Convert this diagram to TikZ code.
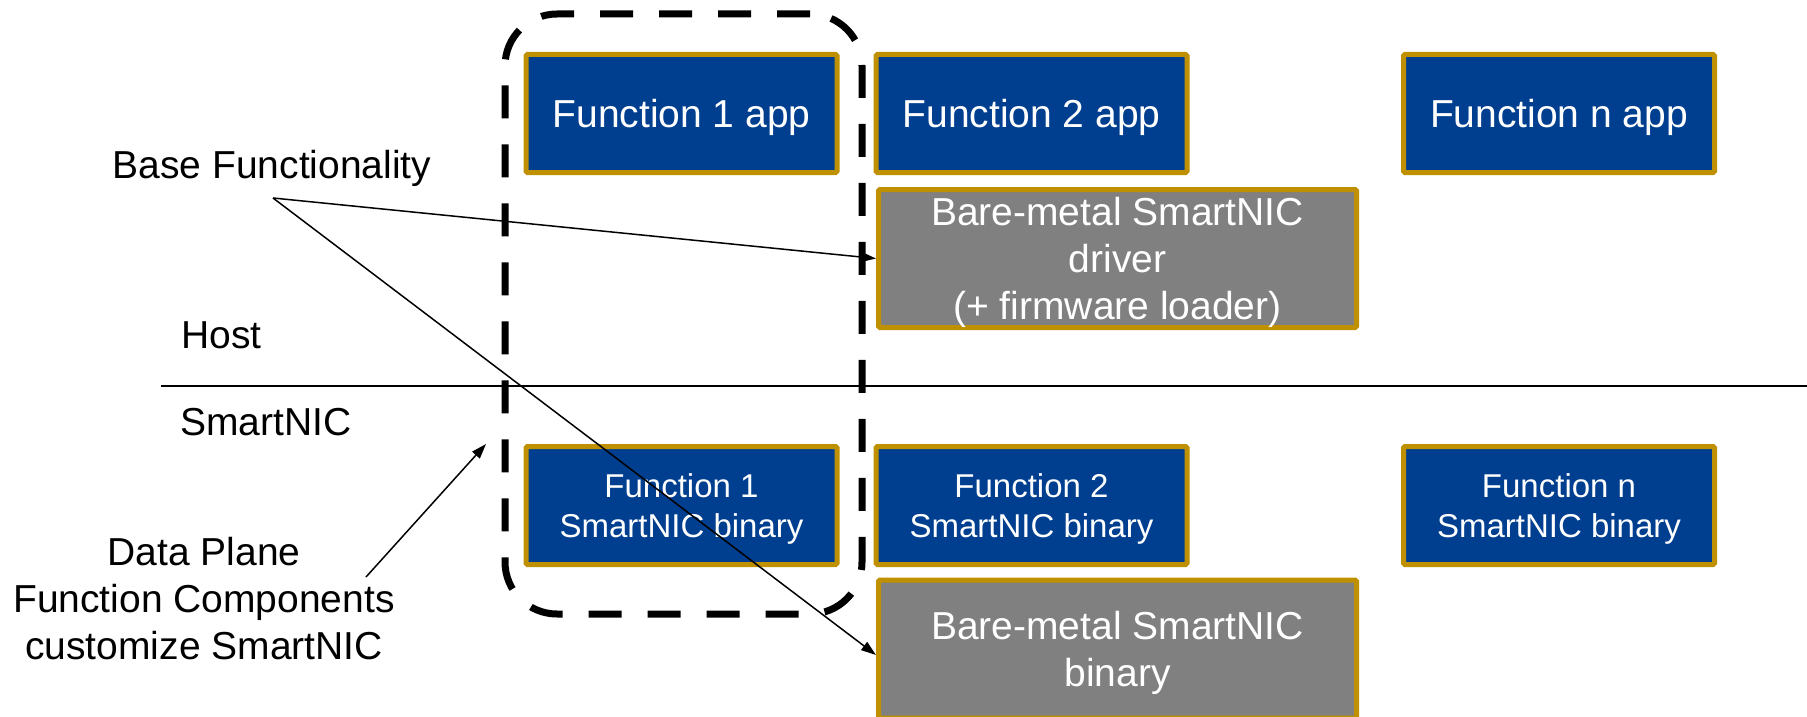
\documentclass[tikz,border=0pt]{standalone}
\usepackage{fontspec}
\setmainfont{Liberation Sans}
\usetikzlibrary{arrows.meta}
\definecolor{fblue}{HTML}{003F8F}
\definecolor{fgold}{HTML}{BF9000}
\definecolor{fgray}{HTML}{808080}
\begin{document}
\begin{tikzpicture}[x=1pt,y=-1pt,
  box/.style={draw=fgold, line width=5pt, rounded corners=1.5pt, text=white, align=center, inner sep=0pt, text depth=0pt},
  app/.style={box, fill=fblue, minimum width=311pt, minimum height=118pt, font=\fontsize{39}{47}\selectfont},
  bin/.style={box, fill=fblue, minimum width=311pt, minimum height=118pt, font=\fontsize{33}{40}\selectfont},
  bare/.style={box, fill=fgray, minimum width=478pt, minimum height=138pt, font=\fontsize{39}{47}\selectfont},
  lbl/.style={font=\fontsize{39}{47}\selectfont, inner sep=0pt, align=center},
  conn/.style={line width=1.5pt, -{Triangle[length=15pt,width=10pt]}},
  grpbox/.style={draw, line width=7pt, dash pattern=on 33pt off 26pt, rounded corners=52pt, minimum width=357pt, minimum height=600pt, inner sep=0pt}]
\useasboundingbox (0,0) rectangle (1807,717);

% group outline
\node[grpbox] (grp) at (683.5,314) {};

% host side
\node[app] (f1app) at (681.5,113.5) {Function 1 app};
\node[app] (f2app) at (1031.5,113.5) {Function 2 app};
\node[app] (fnapp) at (1559,113.5) {Function n app};
\node[bare] (drv) at (1117.5,258.5) {Bare-metal SmartNIC\\driver\\(+ firmware loader)};

% smartnic side
\node[bin] (f1bin) at (681.5,505.5) {Function 1\\SmartNIC binary};
\node[bin] (f2bin) at (1031.5,505.5) {Function 2\\SmartNIC binary};
\node[bin] (fnbin) at (1559,505.5) {Function n\\SmartNIC binary};
\node[bare] (bm) at (1117.5,649) {Bare-metal SmartNIC\\binary};

% labels
\node[lbl, anchor=base] (bf) at (272,178) {Base Functionality};
\node[lbl, anchor=base west] (host) at (181,348) {Host};
\node[lbl, anchor=base west] (snic) at (180,435) {SmartNIC};
\node[lbl, anchor=base] (dp) at (204,659) {Data Plane\\Function Components\\customize SmartNIC};

% divider
\coordinate (hl1) at (161,386);
\coordinate (hl2) at (1807,386);
\draw[line width=2pt] (hl1) -- (hl2);

% connectors
\coordinate (bfp) at (273,198);
\draw[conn] (bfp) -- (drv.west);
\draw[conn] (bfp) -- ([yshift=-6pt]bm.west);
\coordinate (dpa) at (366,577);
\coordinate (dpt) at (486,444);
\draw[conn] (dpa) -- (dpt);
\end{tikzpicture}
\end{document}
